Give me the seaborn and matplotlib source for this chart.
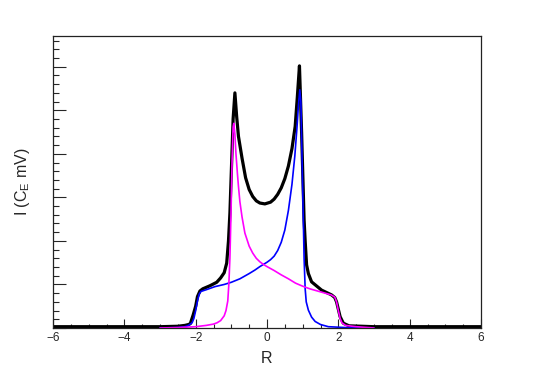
import numpy as np
import pandas as pd
import seaborn as sns
import matplotlib.pyplot as plt
from matplotlib.ticker import MultipleLocator

# values
mag_x = [-3.0, -2.5, -2.0, -1.7, -1.5, -1.4, -1.3, -1.2, -1.15, -1.1, -1.07, -1.04,
         -1.01, -0.98, -0.95, -0.93, -0.90, -0.87, -0.83, -0.80, -0.76, -0.70, -0.62,
         -0.50, -0.40, -0.30, -0.20, -0.10, 0.0, 0.2, 0.4, 0.6, 0.8, 1.0, 1.2, 1.5,
         1.8, 1.9, 1.95, 2.0, 2.05, 2.1, 2.2, 2.5, 3.0]
mag_y = [0.0, 0.01, 0.03, 0.06, 0.09, 0.12, 0.17, 0.28, 0.40, 0.62, 1.0, 1.6,
         2.6, 3.8, 4.62, 4.70, 4.45, 4.0, 3.55, 3.25, 2.9, 2.55, 2.18,
         1.88, 1.72, 1.60, 1.52, 1.46, 1.41, 1.32, 1.22, 1.13, 1.03, 0.96, 0.90, 0.83,
         0.76, 0.71, 0.60, 0.40, 0.22, 0.12, 0.06, 0.03, 0.0]

blue_x = [-3.0, -2.5, -2.3, -2.2, -2.1, -2.05, -2.0, -1.95, -1.9, -1.85, -1.7, -1.46,
          -1.2, -1.0, -0.76, -0.5, -0.34, -0.2, -0.1, 0.0, 0.1, 0.2, 0.3, 0.4, 0.5,
          0.6, 0.7, 0.78, 0.84, 0.88, 0.92, 0.95, 0.98, 1.01, 1.04, 1.07, 1.1, 1.16,
          1.25, 1.35, 1.5, 1.72, 2.2, 3.0]
blue_y = [0.0, 0.01, 0.03, 0.06, 0.12, 0.22, 0.40, 0.62, 0.78, 0.84, 0.88, 0.95,
          1.00, 1.05, 1.13, 1.25, 1.33, 1.41, 1.46, 1.51, 1.57, 1.65, 1.78, 1.97, 2.25,
          2.7, 3.3, 3.95, 4.6, 5.1, 5.47, 5.2, 4.0, 2.8, 1.6, 0.9, 0.6, 0.41,
          0.25, 0.15, 0.08, 0.03, 0.01, 0.0]

sum_x = [-6.0, -4.0, -3.0, -2.5, -2.3, -2.2, -2.15, -2.07, -2.0, -1.95, -1.88, -1.8,
         -1.6, -1.41, -1.3, -1.2, -1.13, -1.08, -1.04, -1.0, -0.95, -0.9, -0.85, -0.8,
         -0.7, -0.6, -0.5, -0.4, -0.3, -0.2, -0.06, 0.1, 0.2, 0.3, 0.4, 0.5, 0.6, 0.7,
         0.79, 0.85, 0.91, 0.97, 1.04, 1.07, 1.11, 1.16, 1.25, 1.53, 1.81, 1.9, 1.95,
         2.05, 2.14, 2.3, 2.66, 3.0, 4.0, 6.0]
sum_y = [0.03, 0.03, 0.03, 0.04, 0.06, 0.08, 0.10, 0.30, 0.50, 0.72, 0.85, 0.90,
         0.97, 1.05, 1.15, 1.27, 1.49, 2.0, 2.64, 3.6, 4.8, 5.40, 4.85, 4.4,
         3.9, 3.45, 3.18, 3.02, 2.92, 2.87, 2.85, 2.89, 2.96, 3.07, 3.22, 3.43, 3.72, 4.12,
         4.63, 5.3, 6.02, 4.5, 2.48, 2.0, 1.45, 1.25, 1.06, 0.87, 0.76, 0.70, 0.60,
         0.26, 0.11, 0.05, 0.04, 0.03, 0.03, 0.03]

sns.set_style("ticks")
plt.rcParams['font.family'] = ['Liberation Sans', 'DejaVu Sans']
plt.rcParams['mathtext.fontset'] = 'custom'
plt.rcParams['mathtext.rm'] = 'Liberation Sans'
plt.rcParams['mathtext.it'] = 'Liberation Sans'

fig = plt.figure(figsize=(5.35, 3.65), dpi=100)
ax = fig.add_axes([53 / 535, 37 / 365, 428 / 535, 292 / 365])

sns.lineplot(x=sum_x, y=sum_y, color='black', lw=2.3, sort=False, estimator=None, ax=ax)
sns.lineplot(x=blue_x, y=blue_y, color='#0000ff', lw=1.2, sort=False, estimator=None, ax=ax)
sns.lineplot(x=mag_x, y=mag_y, color='#ff00ff', lw=1.2, sort=False, estimator=None, ax=ax)

ax.set_xlim(-6, 6)
ax.set_ylim(0, 6.706)
ax.xaxis.set_major_locator(MultipleLocator(2))
ax.xaxis.set_minor_locator(MultipleLocator(0.5))
ax.yaxis.set_major_locator(MultipleLocator(1))
ax.yaxis.set_minor_locator(MultipleLocator(0.2))
ax.tick_params(axis='x', which='major', direction='in', length=6.3, width=0.8,
               labelsize=8.5, pad=3)
ax.tick_params(axis='x', which='minor', direction='in', length=3.2, width=0.8)
ax.tick_params(axis='y', which='major', direction='in', length=9.2, width=0.8,
               labelleft=False)
ax.tick_params(axis='y', which='minor', direction='in', length=4.6, width=0.8)
for s in ax.spines.values():
    s.set_linewidth(0.9)
    s.set_color('#222222')

ax.set_xlabel('R', fontsize=11.5, labelpad=5)
ax.set_ylabel(r'I (C$_{\mathrm{E}}$ mV)', fontsize=11.5, labelpad=12)

fig.savefig('out.png', dpi=100)
